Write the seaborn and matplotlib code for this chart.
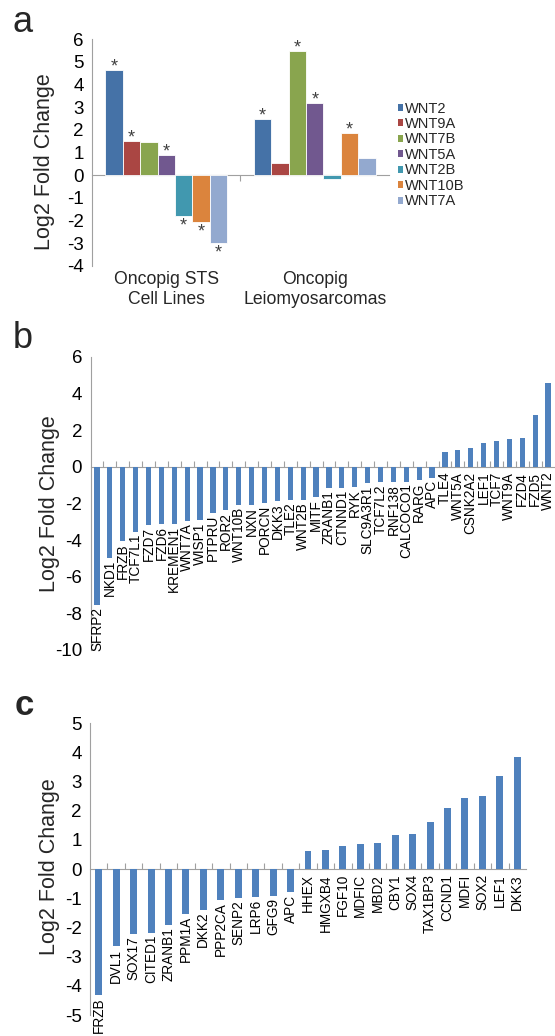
import numpy as np
import pandas as pd
import matplotlib
matplotlib.use("Agg")
import matplotlib.pyplot as plt
import seaborn as sns

# ---------------- data ----------------
a_groups = ["Oncopig STS\nCell Lines", "Oncopig\nLeiomyosarcomas"]
a_genes = ["WNT2", "WNT9A", "WNT7B", "WNT5A", "WNT2B", "WNT10B", "WNT7A"]
a_sts = [4.63, 1.53, 1.46, 0.91, -1.81, -2.06, -2.99]
a_lms = [2.50, 0.54, 5.47, 3.19, -0.16, 1.88, 0.74]
a_sig_sts = [1, 1, 0, 1, 1, 1, 1]
a_sig_lms = [1, 0, 1, 1, 0, 1, 0]
a_colors = ["#4572A7", "#AA4643", "#89A54E", "#71588F", "#4198AF", "#DB843D", "#93A9CF"]

b_genes = ["SFRP2", "NKD1", "FRZB", "TCF7L1", "FZD7", "FZD6", "KREMEN1", "WNT7A",
           "WISP1", "PTPRU", "ROR2", "WNT10B", "NXN", "PORCN", "DKK3", "TLE2",
           "WNT2B", "MITF", "ZRANB1", "CTNND1", "RYK", "SLC9A3R1", "TCF7L2",
           "RNF138", "CALCOCO1", "RARG", "APC", "TLE4", "WNT5A", "CSNK2A2",
           "LEF1", "TCF7", "WNT9A", "FZD4", "FZD5", "WNT2"]
b_values = [-7.55, -4.97, -4.05, -3.55, -3.15, -3.12, -3.10, -2.97,
            -2.92, -2.50, -2.34, -2.07, -2.06, -1.96, -1.89, -1.81,
            -1.80, -1.65, -1.18, -1.16, -1.10, -0.90, -0.85,
            -0.82, -0.80, -0.74, -0.62, 0.83, 0.90, 1.01,
            1.30, 1.41, 1.52, 1.56, 2.84, 4.57]

c_genes = ["FRZB", "DVL1", "SOX17", "CITED1", "ZRANB1", "PPM1A", "DKK2", "PPP2CA",
           "SENP2", "LRP6", "GFG9", "APC", "HHEX", "HMGXB4", "FGF10", "MDFIC",
           "MBD2", "CBY1", "SOX4", "TAX1BP3", "CCND1", "MDFI", "SOX2", "LEF1", "DKK3"]
c_values = [-4.31, -2.65, -2.23, -2.19, -1.91, -1.54, -1.39, -1.05,
            -1.00, -0.96, -0.91, -0.80, 0.62, 0.64, 0.81, 0.85,
            0.91, 1.18, 1.20, 1.61, 2.10, 2.43, 2.50, 3.20, 3.86]

# ---------------- style ----------------
sns.set_style("white")
plt.rcParams["font.family"] = ["Liberation Sans", "DejaVu Sans"]
GRAY = "#A0A0A0"
BAR = "#4F81BD"
W, H = 555, 1036
fig = plt.figure(figsize=(W / 100, H / 100), dpi=100)


def px_axes(left, right, top, bottom):
    return fig.add_axes([left / W, 1 - bottom / H, (right - left) / W, (bottom - top) / H])


def style_axes(ax, ylim, yticks, tick_fs):
    ax.set_ylim(*ylim)
    ax.set_yticks(yticks)
    ax.set_yticklabels([str(t) for t in yticks], fontsize=tick_fs)
    for s in ["top", "right", "bottom"]:
        ax.spines[s].set_visible(False)
    ax.spines["left"].set_color(GRAY)
    ax.spines["left"].set_linewidth(0.8)
    ax.tick_params(axis="y", length=3, width=0.8, color=GRAY, pad=3, labelcolor="black")
    ax.set_xlabel("")
    # zero axis line with category-boundary ticks
    zf = (0 - ylim[0]) / (ylim[1] - ylim[0])
    sec = ax.secondary_xaxis(zf)
    n = len(ax.get_xticks())
    sec.set_xticks(np.arange(n - 1) + 0.5)
    sec.tick_params(length=4, width=0.8, color=GRAY, labelbottom=False, labeltop=False)
    for s in sec.spines.values():
        s.set_color(GRAY)
        s.set_linewidth(0.8)
    return sec


# ---------------- panel a ----------------
axA = px_axes(92, 389, 39.3, 265.7)
dfA = pd.DataFrame({
    "group": np.repeat(a_groups, len(a_genes)),
    "gene": a_genes * 2,
    "value": a_sts + a_lms,
})
sns.barplot(data=dfA, x="group", y="value", hue="gene", hue_order=a_genes,
            palette=a_colors, width=0.82, edgecolor="white", linewidth=0.6,
            saturation=1, ax=axA, legend=True)
axA.set_xlim(-0.5, 1.5)
style_axes(axA, (-4, 6), list(range(-4, 7)), 13.5)
axA.set_ylabel("Log2 Fold Change", fontsize=15.5)
axA.yaxis.set_label_coords(-0.125, 0.46)
axA.tick_params(axis="x", length=0, pad=4, labelsize=12.7)
for lbl in axA.get_xticklabels():
    lbl.set_linespacing(1.2)

sig = [a_sig_sts, a_sig_lms]
vals = [a_sts, a_lms]
for hi, cont in enumerate(axA.containers):
    for gi, bar in enumerate(cont):
        if not sig[gi][hi]:
            continue
        xc = bar.get_x() + bar.get_width() / 2
        val = vals[gi][hi]
        if val >= 0:
            axA.annotate("*", (xc, val), xytext=(0, -4), textcoords="offset points",
                         ha="center", va="bottom", fontsize=13, color="#404040")
        else:
            axA.annotate("*", (xc, val), xytext=(0, -1), textcoords="offset points",
                         ha="center", va="top", fontsize=13, color="#404040")

leg = axA.legend(loc="upper left", bbox_to_anchor=(1.03, 0.725), frameon=False,
                 fontsize=10.5, handlelength=0.35, handleheight=0.35,
                 handletextpad=0.15, labelspacing=0.1, borderpad=0, borderaxespad=0)
for h in leg.legend_handles:
    h.set_edgecolor("none")


# ---------------- panels b & c ----------------
def gene_panel(ax, genes, values, ylim, yticks, label_x, label_y):
    df = pd.DataFrame({"gene": genes, "value": values})
    sns.barplot(data=df, x="gene", y="value", color=BAR, width=0.4, saturation=1,
                edgecolor="none", ax=ax)
    ax.set_xlim(-0.5, len(genes) - 0.5)
    style_axes(ax, ylim, yticks, 13.5)
    ax.tick_params(axis="x", length=0, labelbottom=False)
    ax.set_ylabel("Log2 Fold Change", fontsize=15.5)
    ax.yaxis.set_label_coords(label_x, label_y)
    for i, (g, v) in enumerate(zip(genes, values)):
        off = -1.5 if v < 0 else -3.5
        ax.annotate(g, (i, min(v, 0)), xytext=(0, off), textcoords="offset points",
                    rotation=90, ha="center", va="top", fontsize=9.8, color="black",
                    annotation_clip=False)


axB = px_axes(90.5, 554.5, 357, 650)
gene_panel(axB, b_genes, b_values, (-10, 6), list(range(-10, 7, 2)), -0.066, 0.5)

axC = px_axes(90, 526, 723.3, 1015)
gene_panel(axC, c_genes, c_values, (-5, 5), list(range(-5, 6)), -0.069, 0.507)

# ---------------- panel letters ----------------
fig.text(13 / W, 1 - 32 / H, "a", fontsize=26, va="baseline", ha="left")
fig.text(13 / W, 1 - 348 / H, "b", fontsize=26, va="baseline", ha="left")
fig.text(15 / W, 1 - 715 / H, "c", fontsize=25, va="baseline", ha="left", fontweight="bold")

fig.savefig("out.png", dpi=100)
